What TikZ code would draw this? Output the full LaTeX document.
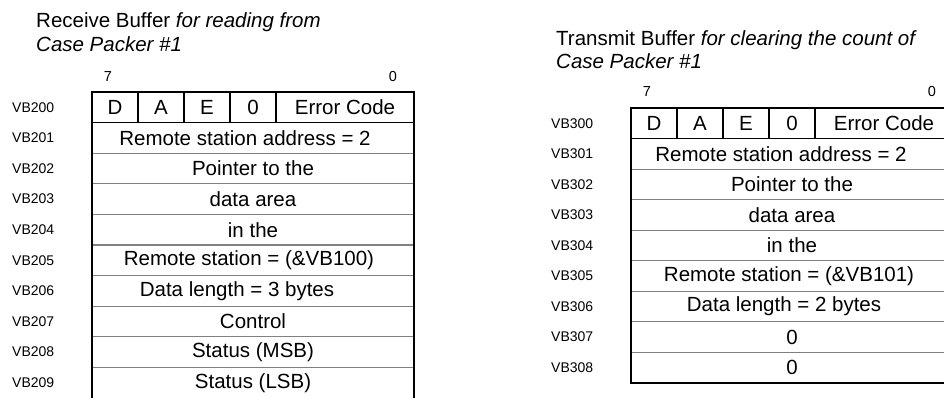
\documentclass[tikz,border=0pt]{standalone}
\usepackage{fontspec}
\setmainfont{Liberation Sans}
\begin{document}
\begin{tikzpicture}[x=1pt,y=-1pt,
  celltext/.style={inner sep=0pt,font=\fontsize{20.5}{24}\selectfont},
  addr/.style={anchor=west,inner sep=0pt,font=\fontsize{14}{17}\selectfont},
  bitno/.style={anchor=base,inner sep=0pt,font=\fontsize{14.5}{17}\selectfont},
  ttl/.style={anchor=base west,inner sep=0pt,font=\fontsize{20.5}{24}\selectfont},
  outer/.style={draw=black,line width=1.5pt},
  inner/.style={draw=black!50,line width=1.2pt},
  divider/.style={draw=black,line width=1.5pt}]
\useasboundingbox (0,0) rectangle (944,397);
\clip (0,0) rectangle (944,397);
% ---------- Left: receive buffer ----------
\node[ttl] (lt1) at (36,27) {Receive Buffer \textit{for reading from}};
\node[ttl] (lt2) at (36,51) {\textit{Case Packer \#1}};
\node[bitno] (l7) at (108,81) {7};
\node[bitno] (l0) at (393,81) {0};
\def\lh{30.6}
\foreach \k in {2,...,9}{
  \draw[inner] (92,92+\k*\lh) -- (414,92+\k*\lh);
}
\draw[divider] (92,92+\lh) -- (414,92+\lh);
\foreach \x in {138,184,230,276}{
  \draw[divider] (\x,92) -- (\x,92+\lh);
}
\draw[outer] (92,400) -- (92,92) -- (414,92) -- (414,400);
\foreach \i/\t in {0/VB200,1/VB201,2/VB202,3/VB203,4/VB204,5/VB205,6/VB206,7/VB207,8/VB208,9/VB209}{
  \node[addr] (la\i) at (12,92+\i*\lh+\lh/2) {\t};
}
\def\ly{92+\lh/2}
\node[celltext] (lD) at (115,\ly) {D};
\node[celltext] (lA) at (161,\ly) {A};
\node[celltext] (lE) at (207,\ly) {E};
\node[celltext] (lZ) at (253,\ly) {0};
\node[celltext] (lEC) at (345,\ly) {Error Code};
\foreach \i/\t/\dx in {1/Remote station address = 2/-8,2/Pointer to the/0,3/data area/0,4/in the/0,5/{Remote station = (\&VB100)}/-4,6/Data length = 3 bytes/-16,7/Control/0,8/Status (MSB)/0,9/Status (LSB)/0}{
  \node[celltext] (lc\i) at (253+\dx,92+\i*\lh+\lh/2) {\t};
}
% ---------- Right: transmit buffer ----------
\node[ttl] (rt1) at (556,45) {Transmit Buffer \textit{for clearing the count of}};
\node[ttl] (rt2) at (556,68) {\textit{Case Packer \#1}};
\node[bitno] (r7) at (647,96) {7};
\node[bitno] (r0) at (932,96) {0};
\def\rh{30.55}
\foreach \k in {2,...,8}{
  \draw[inner] (631,108+\k*\rh) -- (953,108+\k*\rh);
}
\draw[divider] (631,108+\rh) -- (953,108+\rh);
\foreach \x in {677,723,769,815}{
  \draw[divider] (\x,108) -- (\x,108+\rh);
}
\draw[outer] (631,108) rectangle (953,383);
\foreach \i/\t in {0/VB300,1/VB301,2/VB302,3/VB303,4/VB304,5/VB305,6/VB306,7/VB307,8/VB308}{
  \node[addr] (ra\i) at (551,108+\i*\rh+\rh/2) {\t};
}
\def\ry{108+\rh/2}
\node[celltext] (rD) at (654,\ry) {D};
\node[celltext] (rA) at (700,\ry) {A};
\node[celltext] (rE) at (746,\ry) {E};
\node[celltext] (rZ) at (792,\ry) {0};
\node[celltext] (rEC) at (884,\ry) {Error Code};
\foreach \i/\t/\dx in {1/Remote station address = 2/-11,2/Pointer to the/0,3/data area/0,4/in the/0,5/{Remote station = (\&VB101)}/-3,6/Data length = 2 bytes/-8,7/0/0,8/0/0}{
  \node[celltext] (rc\i) at (792+\dx,108+\i*\rh+\rh/2) {\t};
}
\end{tikzpicture}
\end{document}
